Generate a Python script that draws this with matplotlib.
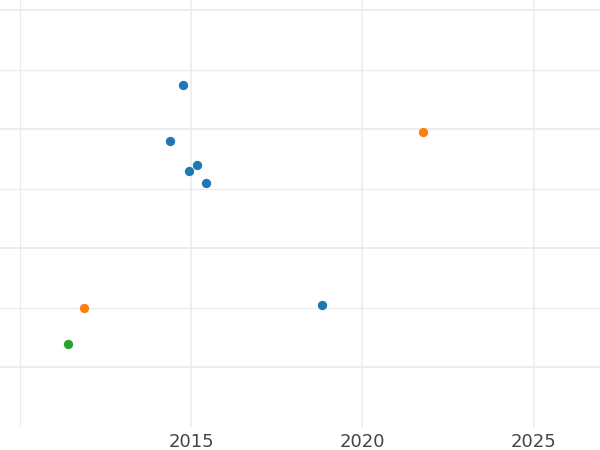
import matplotlib
matplotlib.use("Agg")
import matplotlib.pyplot as plt
from matplotlib.ticker import MultipleLocator, FixedLocator

years_blue = [2014.77, 2014.38, 2015.17, 2014.95, 2015.43, 2018.81]
vals_blue = [2.372, 1.897, 1.695, 1.645, 1.544, 0.523]
years_orange = [2021.76, 2011.88]
vals_orange = [1.973, 0.498]
years_green = [2011.40]
vals_green = [0.195]

fig = plt.figure(figsize=(6, 4.5), dpi=100)
ax = fig.add_axes([0, 1 - 427 / 450, 1, 427 / 450])
ax.scatter(years_blue, vals_blue, s=45, color="#1f77b4", linewidths=0, zorder=3)
ax.scatter(years_orange, vals_orange, s=45, color="#ff7f0e", linewidths=0, zorder=3)
ax.scatter(years_green, vals_green, s=45, color="#2ca02c", linewidths=0, zorder=3)

ax.set_xlim(2009.42, 2026.94)
ax.set_ylim(-0.504, 3.084)
ax.xaxis.set_major_locator(FixedLocator([2015, 2020, 2025]))
ax.xaxis.set_minor_locator(FixedLocator([2010]))
ax.yaxis.set_major_locator(MultipleLocator(1))
ax.yaxis.set_minor_locator(MultipleLocator(0.5))
ax.grid(True, which="major", axis="y", color="#ebebeb", linewidth=1.3, zorder=0)
ax.grid(True, which="minor", color="#ebebeb", linewidth=0.8, zorder=0)
ax.grid(True, which="major", axis="x", color="#ebebeb", linewidth=1.1, zorder=0)
ax.set_axisbelow(True)
for s in ax.spines.values():
    s.set_visible(False)
ax.tick_params(axis="both", which="both", length=0)
ax.tick_params(axis="x", labelsize=13, labelcolor="#444444", pad=4)
ax.tick_params(axis="y", labelleft=False)
fig.savefig("out.png", dpi=100)
